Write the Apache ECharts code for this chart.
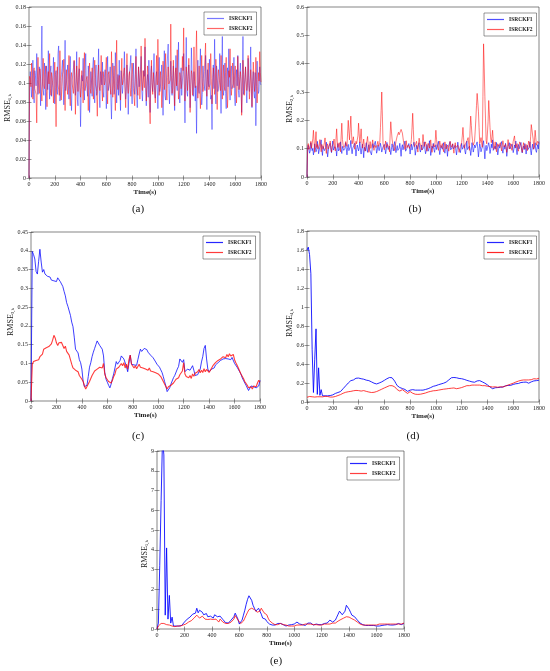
<!DOCTYPE html>
<html><head><meta charset="utf-8">
<script src="https://cdn.jsdelivr.net/npm/echarts@6/dist/echarts.min.js"></script>
<style>html,body{margin:0;padding:0;background:#fff}#c{width:550px;height:671px}</style>
</head><body><div id="c"></div><script>
// time axes: 0..1800 s every 10 s, and every 5 s for the noisy panels (a), (b)
const time = [];
for (let t = 0; t <= 1800; t += 10) time.push(t);
const timeFine = [];
for (let t = 0; t <= 1800; t += 5) timeFine.push(t);
const xTicks = [0,200,400,600,800,1000,1200,1400,1600,1800];
const seriesNames = ['ISRCKF1','ISRCKF2'];
const panelLabels = ['(a)','(b)','(c)','(d)','(e)'];
const yLabelSubs = ['1,k','2,k','3,k','4,k','5,k'];
const yMax = [0.18, 0.6, 0.45, 1.8, 9];
const yInterval = [0.02, 0.1, 0.05, 0.2, 1];

// (a) RMSE_1,k  -- samples at t = 0,10,...,1800
const a_f1 = [
0,0.112,0.085,0.124,0.079,0.108,0.131,0.088,0.117,0.076,
0.160,0.092,0.121,0.072,0.109,0.134,0.083,0.118,0.095,0.127,
0.078,0.113,0.088,0.139,0.081,0.106,0.124,0.077,0.145,0.091,
0.119,0.083,0.128,0.071,0.102,0.123,0.087,0.133,0.076,0.115,
0.054,0.108,0.126,0.082,0.131,0.094,0.118,0.069,0.112,0.086,
0.127,0.079,0.119,0.091,0.136,0.074,0.108,0.122,0.085,0.114,
0.073,0.128,0.093,0.117,0.062,0.121,0.088,0.132,0.079,0.109,
0.124,0.071,0.115,0.098,0.133,0.083,0.119,0.067,0.112,0.129,
0.078,0.121,0.088,0.136,0.074,0.117,0.094,0.128,0.081,0.113,
0.138,0.076,0.109,0.124,0.069,0.118,0.091,0.131,0.084,0.112,
0.073,0.127,0.096,0.119,0.066,0.134,0.082,0.115,0.141,0.078,
0.123,0.087,0.118,0.071,0.129,0.092,0.143,0.079,0.116,0.102,
0.131,0.058,0.148,0.086,0.119,0.074,0.137,0.093,0.112,0.081,
0.047,0.124,0.089,0.136,0.077,0.118,0.097,0.129,0.072,0.113,
0.125,0.083,0.051,0.119,0.146,0.078,0.112,0.094,0.131,0.068,
0.149,0.087,0.121,0.073,0.116,0.136,0.082,0.118,0.095,0.127,
0.076,0.114,0.129,0.085,0.121,0.069,0.149,0.088,0.117,0.079,
0.126,0.091,0.138,0.074,0.112,0.084,0.055,0.123,0.089,0.117,
0.098];
// (a) ISRCKF1 at t = 5,15,...,1795
const a_f1_mid = [
0.095,0.102,0.098,0.091,0.113,0.097,0.104,0.089,0.108,0.121,
0.099,0.087,0.106,0.118,0.093,0.101,0.112,0.086,0.103,0.097,
0.109,0.094,0.131,0.099,0.087,0.115,0.096,0.104,0.092,0.107,
0.098,0.111,0.089,0.103,0.116,0.094,0.101,0.083,0.106,0.097,
0.088,0.102,0.095,0.113,0.099,0.086,0.107,0.094,0.101,0.118,
0.096,0.104,0.087,0.109,0.093,0.112,0.098,0.091,0.106,0.099,
0.105,0.092,0.101,0.084,0.097,0.108,0.094,0.111,0.099,0.087,
0.096,0.113,0.089,0.104,0.098,0.091,0.106,0.095,0.118,0.093,
0.102,0.097,0.109,0.088,0.103,0.096,0.114,0.092,0.099,0.107,
0.094,0.101,0.085,0.097,0.112,0.099,0.104,0.089,0.106,0.095,
0.103,0.091,0.108,0.096,0.101,0.087,0.099,0.113,0.094,0.102,
0.097,0.106,0.089,0.104,0.098,0.116,0.092,0.101,0.087,0.109,
0.095,0.103,0.091,0.107,0.099,0.094,0.111,0.086,0.102,0.097,
0.104,0.093,0.109,0.097,0.088,0.105,0.092,0.101,0.114,0.096,
0.099,0.087,0.106,0.094,0.102,0.118,0.091,0.103,0.097,0.108,
0.093,0.101,0.089,0.107,0.096,0.104,0.112,0.094,0.099,0.086,
0.105,0.097,0.092,0.109,0.099,0.103,0.088,0.106,0.095,0.101,
0.097,0.108,0.094,0.102,0.089,0.111,0.096,0.104,0.092,0.099];
const a_f2 = [
0,0.104,0.121,0.083,0.116,0.092,0.058,0.127,0.089,0.113,
0.081,0.126,0.094,0.118,0.075,0.112,0.131,0.087,0.106,0.079,
0.122,0.054,0.117,0.093,0.134,0.082,0.109,0.125,0.071,0.114,
0.088,0.129,0.076,0.111,0.098,0.124,0.067,0.118,0.091,0.127,
0.085,0.113,0.079,0.132,0.094,0.107,0.071,0.121,0.089,0.116,
0.083,0.124,0.098,0.065,0.119,0.092,0.129,0.081,0.114,0.102,
0.127,0.078,0.112,0.094,0.133,0.085,0.118,0.071,0.145,0.093,
0.108,0.082,0.126,0.097,0.116,0.074,0.131,0.089,0.112,0.086,
0.121,0.094,0.076,0.128,0.101,0.117,0.083,0.139,0.092,0.115,
0.147,0.081,0.118,0.096,0.057,0.124,0.088,0.113,0.079,0.129,
0.146,0.087,0.112,0.074,0.123,0.093,0.131,0.082,0.117,0.098,
0.162,0.089,0.124,0.076,0.116,0.135,0.083,0.111,0.094,0.128,
0.158,0.081,0.117,0.092,0.126,0.069,0.113,0.087,0.138,0.095,
0.155,0.084,0.118,0.073,0.129,0.091,0.112,0.142,0.086,0.121,
0.094,0.131,0.078,0.116,0.088,0.125,0.072,0.114,0.098,0.129,
0.083,0.119,0.092,0.127,0.074,0.113,0.136,0.087,0.121,0.095,
0.118,0.079,0.128,0.093,0.112,0.066,0.124,0.087,0.117,0.092,
0.129,0.083,0.114,0.075,0.122,0.091,0.127,0.079,0.111,0.133,
0.101];
const a_f2_mid = [
0.107,0.096,0.101,0.112,0.094,0.088,0.104,0.098,0.115,0.093,
0.102,0.097,0.109,0.091,0.105,0.099,0.094,0.111,0.097,0.103,
0.095,0.108,0.099,0.087,0.103,0.096,0.112,0.094,0.101,0.098,
0.104,0.093,0.106,0.099,0.089,0.108,0.097,0.102,0.114,0.095,
0.101,0.096,0.109,0.092,0.104,0.098,0.111,0.094,0.103,0.097,
0.106,0.099,0.091,0.108,0.096,0.103,0.094,0.112,0.098,0.104,
0.097,0.109,0.101,0.088,0.105,0.098,0.093,0.107,0.099,0.102,
0.094,0.106,0.098,0.111,0.092,0.103,0.097,0.108,0.095,0.101,
0.109,0.096,0.104,0.099,0.087,0.106,0.098,0.102,0.113,0.095,
0.103,0.097,0.108,0.094,0.101,0.099,0.111,0.092,0.105,0.098,
0.112,0.098,0.104,0.096,0.109,0.101,0.094,0.106,0.099,0.103,
0.108,0.095,0.102,0.111,0.097,0.104,0.092,0.106,0.099,0.113,
0.101,0.096,0.107,0.093,0.104,0.098,0.109,0.095,0.102,0.097,
0.106,0.099,0.092,0.108,0.101,0.096,0.112,0.097,0.104,0.093,
0.099,0.105,0.097,0.109,0.094,0.103,0.098,0.107,0.092,0.101,
0.104,0.096,0.111,0.099,0.093,0.106,0.101,0.097,0.108,0.094,
0.102,0.098,0.107,0.095,0.104,0.091,0.109,0.099,0.103,0.097,
0.106,0.094,0.101,0.097,0.108,0.099,0.104,0.096,0.102,0.111];

// (b) RMSE_2,k
const b_f1 = [
0,0.112,0.084,0.121,0.093,0.078,0.117,0.089,0.126,0.082,
0.108,0.131,0.076,0.114,0.095,0.123,0.071,0.109,0.119,0.086,
0.127,0.091,0.113,0.074,0.118,0.097,0.124,0.083,0.111,0.089,
0.121,0.078,0.115,0.098,0.129,0.082,0.107,0.119,0.074,0.113,
0.092,0.124,0.081,0.116,0.068,0.109,0.121,0.087,0.114,0.095,
0.078,0.118,0.101,0.126,0.084,0.112,0.093,0.119,0.088,0.106,
0.115,0.082,0.122,0.097,0.109,0.079,0.117,0.092,0.125,0.086,
0.111,0.094,0.119,0.073,0.114,0.102,0.127,0.085,0.108,0.118,
0.081,0.116,0.095,0.123,0.077,0.112,0.104,0.121,0.088,0.113,
0.096,0.124,0.082,0.115,0.091,0.128,0.076,0.109,0.119,0.087,
0.114,0.092,0.126,0.079,0.111,0.098,0.121,0.084,0.116,0.073,
0.108,0.125,0.089,0.117,0.094,0.112,0.078,0.123,0.101,0.086,
0.119,0.093,0.114,0.081,0.127,0.098,0.109,0.076,0.121,0.088,
0.113,0.096,0.124,0.071,0.117,0.089,0.106,0.128,0.064,0.112,
0.094,0.121,0.083,0.116,0.131,0.087,0.109,0.122,0.078,0.114,
0.097,0.125,0.084,0.111,0.119,0.073,0.108,0.121,0.092,0.116,
0.086,0.113,0.127,0.079,0.115,0.098,0.122,0.085,0.109,0.118,
0.081,0.112,0.095,0.124,0.078,0.116,0.102,0.121,0.087,0.114,
0.125];
const b_f1_mid = [
0.098,0.105,0.092,0.107,0.101,0.094,0.103,0.097,0.109,0.095,
0.102,0.096,0.108,0.093,0.104,0.099,0.091,0.106,0.098,0.103,
0.095,0.107,0.099,0.104,0.092,0.101,0.096,0.108,0.094,0.102,
0.099,0.104,0.093,0.106,0.098,0.101,0.095,0.103,0.097,0.108,
0.103,0.094,0.101,0.097,0.105,0.092,0.099,0.106,0.098,0.102,
0.096,0.104,0.099,0.108,0.093,0.101,0.097,0.105,0.094,0.103,
0.101,0.097,0.106,0.092,0.103,0.098,0.104,0.095,0.107,0.099,
0.094,0.102,0.098,0.105,0.096,0.103,0.091,0.101,0.097,0.106,
0.103,0.095,0.101,0.107,0.093,0.099,0.104,0.097,0.102,0.096,
0.105,0.098,0.094,0.103,0.099,0.106,0.092,0.101,0.097,0.104,
0.097,0.103,0.099,0.095,0.106,0.101,0.094,0.102,0.098,0.105,
0.101,0.096,0.104,0.099,0.093,0.107,0.098,0.103,0.095,0.102,
0.098,0.105,0.092,0.101,0.097,0.104,0.099,0.094,0.106,0.100,
0.103,0.097,0.101,0.095,0.108,0.098,0.102,0.096,0.104,0.093,
0.099,0.106,0.097,0.103,0.094,0.101,0.098,0.105,0.092,0.102,
0.104,0.096,0.101,0.098,0.107,0.095,0.103,0.099,0.097,0.105,
0.098,0.102,0.095,0.106,0.099,0.103,0.094,0.101,0.097,0.104,
0.102,0.097,0.105,0.093,0.101,0.098,0.106,0.095,0.103,0.099];
const b_f2 = [
0,0.118,0.092,0.126,0.108,0.165,0.087,0.160,0.115,0.094,
0.132,0.089,0.121,0.105,0.138,0.083,0.117,0.096,0.127,0.088,
0.112,0.134,0.092,0.170,0.104,0.121,0.089,0.190,0.113,0.097,
0.125,0.108,0.200,0.131,0.215,0.117,0.142,0.098,0.126,0.113,
0.190,0.121,0.170,0.102,0.134,0.091,0.118,0.143,0.087,0.125,
0.109,0.131,0.094,0.118,0.102,0.126,0.112,0.175,0.300,0.118,
0.096,0.127,0.108,0.121,0.089,0.195,0.134,0.112,0.093,0.125,
0.145,0.158,0.142,0.168,0.155,0.121,0.097,0.128,0.109,0.116,
0.094,0.132,0.225,0.118,0.101,0.126,0.088,0.137,0.113,0.095,
0.150,0.108,0.124,0.091,0.119,0.102,0.131,0.087,0.115,0.106,
0.165,0.112,0.094,0.127,0.103,0.118,0.089,0.124,0.099,0.113,
0.091,0.126,0.105,0.117,0.084,0.121,0.098,0.112,0.087,0.109,
0.122,0.175,0.101,0.118,0.126,0.139,0.094,0.215,0.148,0.112,
0.126,0.205,0.295,0.232,0.118,0.139,0.105,0.470,0.285,0.128,
0.112,0.270,0.174,0.121,0.165,0.098,0.124,0.089,0.117,0.103,
0.121,0.092,0.128,0.106,0.115,0.087,0.132,0.099,0.118,0.094,
0.126,0.145,0.103,0.118,0.091,0.124,0.112,0.087,0.121,0.098,
0.115,0.093,0.127,0.104,0.185,0.178,0.098,0.165,0.112,0.126,
0.118];
const b_f2_mid = [
0.108,0.097,0.112,0.101,0.135,0.125,0.128,0.104,0.099,0.113,
0.106,0.115,0.098,0.121,0.103,0.109,0.099,0.114,0.102,0.108,
0.118,0.101,0.135,0.126,0.111,0.103,0.145,0.132,0.104,0.112,
0.116,0.155,0.162,0.172,0.158,0.128,0.119,0.111,0.117,0.145,
0.152,0.142,0.128,0.115,0.108,0.104,0.127,0.112,0.105,0.101,
0.118,0.106,0.112,0.104,0.115,0.108,0.123,0.235,0.215,0.105,
0.111,0.104,0.115,0.103,0.148,0.162,0.118,0.105,0.109,0.132,
0.151,0.149,0.155,0.161,0.138,0.109,0.112,0.104,0.113,0.101,
0.114,0.175,0.168,0.107,0.112,0.104,0.115,0.121,0.103,0.118,
0.126,0.114,0.106,0.103,0.111,0.108,0.104,0.101,0.109,0.128,
0.132,0.103,0.109,0.114,0.106,0.101,0.108,0.111,0.105,0.102,
0.109,0.114,0.101,0.098,0.107,0.104,0.103,0.099,0.098,0.115,
0.145,0.138,0.109,0.121,0.132,0.115,0.165,0.182,0.124,0.118,
0.162,0.252,0.265,0.175,0.126,0.121,0.285,0.385,0.205,0.117,
0.195,0.222,0.138,0.142,0.128,0.109,0.106,0.103,0.108,0.111,
0.104,0.112,0.115,0.109,0.101,0.108,0.112,0.106,0.103,0.109,
0.132,0.118,0.109,0.102,0.108,0.117,0.099,0.104,0.109,0.106,
0.103,0.111,0.115,0.142,0.181,0.132,0.128,0.139,0.118,0.121];

// (c) RMSE_3,k
const c_f1 = [
0,0.398,0.390,0.378,0.345,0.338,0.372,0.404,0.370,0.343,
0.350,0.338,0.335,0.332,0.336,0.330,0.322,0.324,0.320,0.323,
0.318,0.328,0.325,0.318,0.316,0.305,0.292,0.280,0.262,0.252,
0.248,0.228,0.210,0.198,0.170,0.138,0.133,0.128,0.110,0.102,
0.085,0.052,0.038,0.035,0.042,0.065,0.090,0.102,0.118,0.130,
0.140,0.150,0.160,0.155,0.148,0.143,0.138,0.120,0.075,0.058,
0.050,0.042,0.035,0.045,0.060,0.072,0.088,0.105,0.098,0.093,
0.108,0.120,0.125,0.112,0.110,0.092,0.078,0.100,0.122,0.098,
0.094,0.096,0.092,0.095,0.110,0.125,0.138,0.132,0.136,0.140,
0.135,0.137,0.130,0.128,0.122,0.118,0.115,0.110,0.104,0.098,
0.095,0.090,0.083,0.076,0.065,0.052,0.040,0.025,0.030,0.035,
0.045,0.050,0.062,0.068,0.072,0.085,0.092,0.112,0.110,0.103,
0.110,0.078,0.075,0.085,0.080,0.082,0.088,0.094,0.082,0.068,
0.066,0.070,0.072,0.085,0.104,0.118,0.140,0.148,0.112,0.085,
0.078,0.080,0.085,0.090,0.088,0.096,0.098,0.102,0.106,0.108,
0.110,0.112,0.114,0.113,0.116,0.112,0.114,0.110,0.116,0.112,
0.100,0.096,0.090,0.085,0.078,0.072,0.062,0.055,0.050,0.042,
0.038,0.028,0.032,0.040,0.045,0.038,0.042,0.035,0.037,0.040,
0.055];
const c_f2 = [
0,0.098,0.105,0.102,0.108,0.112,0.110,0.118,0.122,0.125,
0.138,0.135,0.142,0.138,0.145,0.140,0.152,0.162,0.175,0.168,
0.155,0.148,0.155,0.150,0.156,0.148,0.140,0.146,0.132,0.128,
0.122,0.110,0.098,0.088,0.092,0.082,0.085,0.078,0.068,0.072,
0.058,0.052,0.040,0.032,0.036,0.045,0.052,0.060,0.068,0.072,
0.080,0.076,0.085,0.082,0.090,0.095,0.088,0.100,0.072,0.062,
0.058,0.052,0.055,0.048,0.055,0.065,0.072,0.085,0.080,0.090,
0.095,0.100,0.094,0.102,0.088,0.098,0.085,0.110,0.122,0.098,
0.095,0.088,0.094,0.086,0.092,0.098,0.090,0.095,0.088,0.092,
0.085,0.090,0.082,0.088,0.080,0.085,0.078,0.082,0.075,0.078,
0.072,0.075,0.065,0.060,0.052,0.045,0.040,0.032,0.038,0.035,
0.042,0.038,0.048,0.052,0.058,0.055,0.062,0.070,0.075,0.080,
0.102,0.072,0.065,0.070,0.062,0.068,0.060,0.072,0.066,0.074,
0.070,0.078,0.084,0.075,0.082,0.076,0.086,0.078,0.084,0.080,
0.076,0.082,0.088,0.094,0.098,0.102,0.100,0.108,0.104,0.112,
0.110,0.118,0.122,0.115,0.124,0.118,0.126,0.120,0.118,0.124,
0.110,0.102,0.095,0.088,0.080,0.072,0.068,0.060,0.052,0.048,
0.042,0.035,0.030,0.038,0.032,0.040,0.045,0.038,0.048,0.055,
0.050];

// (d) RMSE_4,k
const d_f1 = [
1.60,1.63,1.55,1.35,0.55,0.10,0.45,0.77,0.08,0.36,
0.07,0.13,0.065,0.06,0.065,0.06,0.065,0.07,0.068,0.072,
0.075,0.08,0.09,0.095,0.10,0.105,0.11,0.125,0.14,0.16,
0.17,0.19,0.20,0.215,0.225,0.238,0.232,0.245,0.25,0.248,
0.252,0.248,0.245,0.242,0.24,0.235,0.23,0.228,0.225,0.218,
0.212,0.205,0.198,0.195,0.19,0.195,0.20,0.205,0.212,0.218,
0.228,0.235,0.245,0.25,0.258,0.26,0.255,0.24,0.22,0.195,
0.172,0.16,0.152,0.148,0.142,0.14,0.132,0.125,0.112,0.10,
0.125,0.138,0.13,0.122,0.125,0.12,0.125,0.128,0.125,0.13,
0.125,0.128,0.132,0.135,0.14,0.145,0.152,0.158,0.165,0.168,
0.172,0.178,0.182,0.186,0.19,0.195,0.198,0.20,0.21,0.222,
0.232,0.245,0.255,0.262,0.258,0.262,0.255,0.25,0.248,0.252,
0.245,0.24,0.238,0.232,0.228,0.225,0.22,0.215,0.212,0.21,
0.208,0.212,0.222,0.228,0.225,0.22,0.212,0.205,0.198,0.19,
0.18,0.168,0.158,0.145,0.14,0.145,0.15,0.148,0.152,0.15,
0.155,0.16,0.158,0.165,0.17,0.168,0.175,0.178,0.175,0.182,
0.185,0.188,0.192,0.198,0.195,0.202,0.205,0.21,0.208,0.212,
0.21,0.205,0.198,0.208,0.212,0.218,0.222,0.22,0.225,0.228,
0.23];
const d_f2 = [
0.05,0.055,0.058,0.062,0.055,0.05,0.052,0.048,0.055,0.052,
0.055,0.058,0.054,0.057,0.06,0.056,0.058,0.055,0.052,0.05,
0.052,0.055,0.058,0.062,0.068,0.072,0.078,0.085,0.092,0.098,
0.102,0.105,0.108,0.11,0.112,0.115,0.118,0.12,0.122,0.118,
0.12,0.118,0.115,0.118,0.12,0.115,0.112,0.108,0.105,0.102,
0.10,0.098,0.102,0.105,0.11,0.118,0.122,0.128,0.135,0.142,
0.148,0.155,0.16,0.165,0.172,0.175,0.172,0.168,0.16,0.145,
0.13,0.12,0.115,0.125,0.13,0.122,0.11,0.098,0.09,0.095,
0.11,0.105,0.092,0.085,0.082,0.085,0.08,0.078,0.082,0.085,
0.088,0.09,0.095,0.1,0.105,0.11,0.112,0.115,0.118,0.12,
0.12,0.122,0.125,0.128,0.13,0.132,0.135,0.135,0.138,0.14,
0.142,0.14,0.145,0.142,0.148,0.145,0.14,0.142,0.145,0.148,
0.152,0.158,0.162,0.168,0.172,0.175,0.172,0.175,0.178,0.176,
0.178,0.18,0.178,0.176,0.178,0.175,0.172,0.17,0.172,0.168,
0.166,0.165,0.162,0.16,0.158,0.162,0.16,0.158,0.155,0.158,
0.16,0.162,0.158,0.165,0.168,0.172,0.178,0.182,0.188,0.192,
0.198,0.205,0.21,0.215,0.22,0.225,0.228,0.23,0.232,0.228,
0.232,0.235,0.232,0.238,0.235,0.24,0.245,0.248,0.242,0.246,
0.25];

// (e) RMSE_5,k
const e_f1 = [
0,0.3,3.2,6.5,9.6,8.8,0.7,4.1,0.5,1.7,
0.3,0.6,0.15,0.12,0.15,0.1,0.15,0.12,0.18,0.2,
0.35,0.3,0.5,0.45,0.6,0.55,0.75,0.72,0.8,1.05,
0.82,0.95,1.0,0.85,0.72,0.68,0.78,0.62,0.58,0.65,
0.62,0.55,0.72,0.68,0.62,0.7,0.65,0.55,0.48,0.4,
0.32,0.25,0.3,0.38,0.45,0.48,0.62,0.8,0.72,0.5,
0.25,0.3,0.45,0.7,0.95,1.25,1.5,1.68,1.62,1.45,
1.2,1.05,0.9,0.95,1.05,0.9,0.75,0.55,0.6,0.5,
0.38,0.32,0.25,0.22,0.2,0.22,0.2,0.25,0.28,0.3,
0.28,0.25,0.22,0.18,0.15,0.18,0.2,0.18,0.22,0.2,
0.25,0.3,0.35,0.3,0.25,0.2,0.22,0.2,0.18,0.22,
0.3,0.35,0.3,0.25,0.2,0.22,0.25,0.2,0.22,0.25,
0.22,0.25,0.28,0.25,0.3,0.38,0.45,0.4,0.35,0.38,
0.45,0.6,0.75,0.9,0.88,0.72,0.7,0.9,1.2,1.25,
1.0,0.85,0.7,0.68,0.62,0.55,0.45,0.35,0.3,0.25,
0.22,0.2,0.18,0.2,0.18,0.15,0.18,0.2,0.18,0.15,
0.15,0.18,0.15,0.2,0.18,0.15,0.2,0.18,0.22,0.2,
0.2,0.22,0.2,0.25,0.22,0.25,0.28,0.25,0.22,0.25,
0.28];
const e_f2 = [
0,0.15,0.22,0.28,0.3,0.28,0.25,0.22,0.25,0.2,
0.18,0.15,0.15,0.12,0.15,0.15,0.12,0.15,0.18,0.2,
0.22,0.25,0.3,0.35,0.4,0.42,0.5,0.55,0.62,0.7,
0.6,0.55,0.62,0.65,0.55,0.5,0.45,0.48,0.55,0.5,
0.42,0.48,0.55,0.5,0.4,0.35,0.5,0.45,0.35,0.3,
0.28,0.25,0.28,0.3,0.35,0.42,0.5,0.68,0.6,0.45,
0.35,0.28,0.3,0.4,0.55,0.7,0.85,0.98,1.02,1.05,
1.02,0.98,0.95,0.85,0.78,0.9,1.05,1.0,0.82,0.9,
0.72,0.55,0.42,0.35,0.3,0.25,0.22,0.2,0.22,0.25,
0.28,0.25,0.22,0.25,0.2,0.18,0.15,0.18,0.15,0.18,
0.15,0.18,0.2,0.18,0.2,0.22,0.2,0.22,0.25,0.22,
0.25,0.22,0.25,0.2,0.22,0.2,0.22,0.18,0.2,0.22,
0.2,0.22,0.25,0.22,0.25,0.28,0.25,0.28,0.3,0.28,
0.3,0.35,0.4,0.45,0.48,0.5,0.55,0.58,0.62,0.65,
0.6,0.55,0.52,0.48,0.45,0.4,0.35,0.3,0.25,0.22,
0.2,0.22,0.2,0.18,0.2,0.22,0.2,0.18,0.2,0.22,
0.2,0.22,0.25,0.22,0.25,0.28,0.25,0.22,0.25,0.28,
0.25,0.22,0.25,0.28,0.25,0.22,0.25,0.28,0.25,0.28,
0.3];

// merge the 10 s samples with the in-between 5 s samples (both)
function merge(main, mid) {
  const out = [];
  main.forEach((v, j) => { out.push(v); if (j < mid.length) out.push(mid[j]); });
  return out;
}
const valuesF1 = [merge(a_f1, a_f1_mid), merge(b_f1, b_f1_mid), c_f1, d_f1, e_f1];
const valuesF2 = [merge(a_f2, a_f2_mid), merge(b_f2, b_f2_mid), c_f2, d_f2, e_f2];
const panelTime = [timeFine, timeFine, time, time, time];

// ---------- layout / style ----------
const FONT = 'Liberation Serif';
const grids = [
  {left:29, top:7,   width:232, height:171},
  {left:307,top:7,   width:232, height:170},
  {left:31, top:232, width:229, height:169},
  {left:307,top:231, width:232, height:171},
  {left:157,top:451, width:247, height:178}
];
const legendPos = [
  {left:204, top:12},
  {left:484, top:13},
  {left:203, top:236},
  {left:484, top:236},
  {left:347, top:457}
];
const yLabelPos = [[8,108],[290,109],[10.5,322],[290,323],[145,554]];
const panelLabelPos = [[138,209],[415,209],[138,436],[413,436],[276,661]];
const lineStyles = [
  [{color:'rgba(30,30,255,0.6)', width:0.8}, {color:'rgba(255,0,0,0.6)', width:0.8}],
  [{color:'rgba(20,20,255,0.75)', width:0.8}, {color:'rgba(255,0,0,0.65)', width:0.8}],
  [{color:'rgba(0,0,255,0.85)', width:0.9}, {color:'rgba(255,10,10,0.8)', width:1.1}],
  [{color:'rgba(0,0,255,0.85)', width:1.0}, {color:'rgba(255,0,0,0.85)', width:0.9}],
  [{color:'rgba(0,0,255,0.85)', width:1.0}, {color:'rgba(255,0,0,0.75)', width:1.0}]
];
const keys = ['a','b','c','d','e'];

const tickStyle = {show:true, inside:true, length:2.5, lineStyle:{color:'#333', width:0.5}};
const option = {
  backgroundColor:'#fff',
  animation:false,
  grid: [], xAxis: [], yAxis: [], series: [], legend: [], graphic: []
};

grids.forEach((g, i) => {
  option.grid.push(Object.assign({show:true, borderColor:'#333', borderWidth:0.6, backgroundColor:'#fff'}, g));
  const xBase = {type:'value', gridIndex:i, min:0, max:1800, interval:200,
    axisLine:{show:false}, splitLine:{show:false}, axisTick:tickStyle};
  option.xAxis.push(Object.assign({}, xBase, {position:'bottom',
    name:'Time(s)', nameLocation:'middle', nameGap:11,
    nameTextStyle:{fontFamily:FONT, fontSize:7, fontWeight:'bold', color:'#222'},
    axisLabel:{fontFamily:FONT, fontSize:6, color:'#222', margin:3,
      formatter: v => xTicks.includes(v) ? String(v) : ''}}));
  option.xAxis.push(Object.assign({}, xBase, {position:'top', axisLabel:{show:false}}));
  const yBase = {type:'value', gridIndex:i, min:0, max:yMax[i], interval:yInterval[i],
    axisLine:{show:false}, splitLine:{show:false}, axisTick:tickStyle};
  option.yAxis.push(Object.assign({}, yBase, {position:'left',
    axisLabel:{fontFamily:FONT, fontSize:6, color:'#222', margin:3}}));
  option.yAxis.push(Object.assign({}, yBase, {position:'right', axisLabel:{show:false}}));

  const tArr = panelTime[i];
  [valuesF1[i], valuesF2[i]].forEach((vals, k) => {
    option.series.push({
      type:'line', name: seriesNames[k] + '#' + keys[i],
      xAxisIndex: 2*i, yAxisIndex: 2*i,
      data: tArr.map((t, j) => [t, vals[j]]),
      symbol:'none', showSymbol:false, clip:true,
      lineStyle: lineStyles[i][k], itemStyle:{color: lineStyles[i][k].color},
      z: 2 + k
    });
  });

  option.legend.push(Object.assign({
    data: seriesNames.map(n => n + '#' + keys[i]),
    formatter: n => n.split('#')[0],
    icon:'rect',
    orient:'vertical', itemWidth:17, itemHeight:1.2, itemGap:3,
    padding:[3,4,3,3], backgroundColor:'#fff', borderColor:'#333', borderWidth:0.5,
    borderRadius:0, selectedMode:false,
    textStyle:{fontFamily:FONT, fontSize:5.5, fontWeight:'bold', color:'#222', lineHeight:7}
  }, legendPos[i]));

  option.graphic.push({
    type:'text', x: yLabelPos[i][0], y: yLabelPos[i][1], rotation: Math.PI/2, z: 100,
    style:{text:'{m|RMSE}{s|' + yLabelSubs[i] + '}', align:'center', verticalAlign:'middle',
      rich:{m:{fontFamily:FONT, fontSize:8, fill:'#222', color:'#222'},
            s:{fontFamily:FONT, fontSize:5, fill:'#222', color:'#222', padding:[4,0,0,0]}}}
  });
  option.graphic.push({
    type:'text', x: panelLabelPos[i][0], y: panelLabelPos[i][1], z: 100,
    style:{text: panelLabels[i], align:'center', verticalAlign:'middle',
      font: '11px "' + FONT + '"', fill:'#111'}
  });
});

const chart = echarts.init(document.getElementById('c'), null, {renderer:'canvas'});
chart.setOption(option);
</script></body></html>
